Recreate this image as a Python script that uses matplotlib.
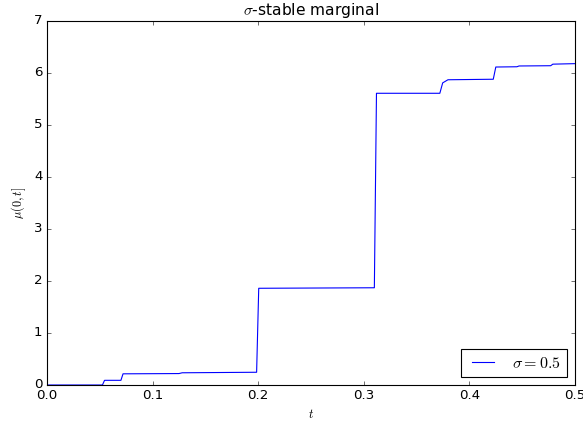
import numpy as np
import matplotlib
matplotlib.use('Agg')
import matplotlib.pyplot as plt

plt.style.use('classic')
plt.rcParams['mathtext.fontset'] = 'cm'

t = [0.0, 0.0525, 0.0545, 0.070, 0.072, 0.125, 0.128, 0.1985, 0.2005,
     0.310, 0.312, 0.372, 0.3747, 0.3797, 0.4226, 0.425, 0.445, 0.447,
     0.477, 0.479, 0.5]
mu = [0.0, 0.0, 0.09, 0.09, 0.215, 0.22, 0.235, 0.245, 1.86,
      1.87, 5.61, 5.61, 5.81, 5.87, 5.88, 6.115, 6.12, 6.135,
      6.14, 6.17, 6.18]
sigma = 0.5

fig = plt.figure(figsize=(583/80, 422/80), dpi=80)
ax = fig.add_axes([47/583, 1-385/422, 528/583, 364/422])
ax.plot(t, mu, color='b', linewidth=1, label=r'$\sigma=%s$' % sigma)
ax.set_xlim(0, 0.5)
ax.set_ylim(0, 7)
ax.set_title(r'$\sigma$-stable marginal', fontsize=14)
ax.set_xlabel(r'$t$', fontsize=11)
ax.set_ylabel(r'$\mu(0,t]$', fontsize=11)
ax.legend(loc='lower right', fontsize=14.4)

fig.savefig('out.png', dpi=80)
